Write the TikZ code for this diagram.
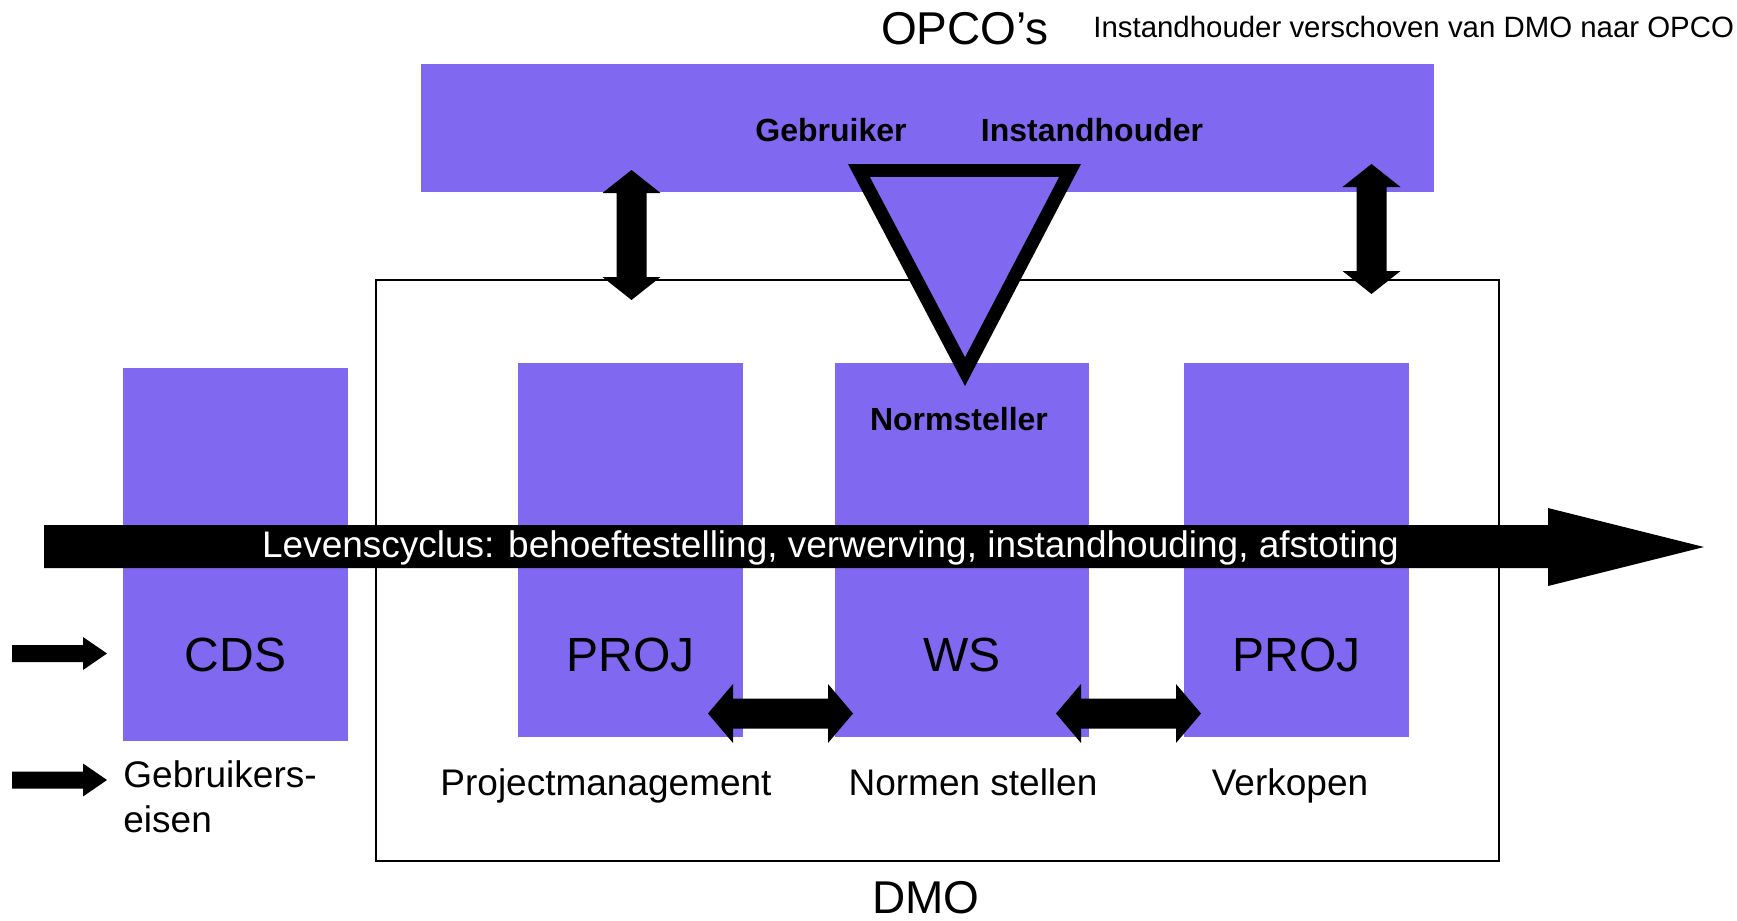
\documentclass[tikz,border=0pt]{standalone}
\usepackage{fontspec}
\setmainfont{Liberation Sans}
\definecolor{purp}{RGB}{129,104,240}
\tikzset{
  box/.style={fill=purp, draw=none},
  blk/.style={fill=black, draw=none},
  lbl/.style={inner sep=0pt, anchor=base},
  big/.style={font=\fontsize{24pt}{28pt}\selectfont},
  mid/.style={font=\fontsize{18.5pt}{22.5pt}\selectfont},
  bld/.style={font=\fontsize{16pt}{19pt}\selectfont\bfseries},
}
\begin{document}
\begin{tikzpicture}[x=0.5pt,y=-0.5pt]
\useasboundingbox (0,0) rectangle (1737,921);
% OPCO bar
\path[box] (421,64) rectangle (1434,192);
\coordinate (opco) at (927.5,128);
% DMO frame
\draw[line width=1.25pt] (376,280) rectangle (1499,861);
% boxes
\path[box] (123,368) rectangle (348,741);
\path[box] (518,363) rectangle (743,737);
\path[box] (835,363) rectangle (1089,737);
\path[box] (1184,363) rectangle (1409,737);
% titles
\node[lbl, font=\fontsize{23pt}{27pt}\selectfont] (opcot) at (965,45) {OPCO’s};
\node[lbl, anchor=base west, font=\fontsize{14.7pt}{17pt}\selectfont] (note) at (1093,38) {Instandhouder verschoven van DMO naar OPCO};
\node[lbl, font=\fontsize{23pt}{27pt}\selectfont] (dmot) at (926,913) {DMO};
\node[lbl, bld] (geb) at (831,141) {Gebruiker};
\node[lbl, bld] (inst) at (1092,141) {Instandhouder};
% triangle
\fill[black] (848,164) -- (1081,164) -- (965,386) -- cycle;
\fill[purp] (870,177) -- (1059,177) -- (965,357) -- cycle;
\node[lbl, bld] (norm) at (959,430) {Normsteller};
% box labels
\node[lbl, big] (cds) at (235.5,671) {CDS};
\node[lbl, big] (proj1) at (630.5,671) {PROJ};
\node[lbl, big] (ws) at (962,671) {WS};
\node[lbl, big] (proj2) at (1296.5,671) {PROJ};
% lower labels
\node[lbl, mid] (pm) at (606,795) {Projectmanagement};
\node[lbl, mid] (ns) at (973,795) {Normen stellen};
\node[lbl, mid] (vk) at (1290,795) {Verkopen};
\node[lbl, mid, anchor=base west] (ge1) at (123,787) {Gebruikers-};
\node[lbl, mid, anchor=base west] (ge2) at (123,832) {eisen};
% vertical double arrows
\path[blk] (631.5,170) -- (660.5,193) -- (646.5,193) -- (646.5,277) -- (660.5,277) -- (631.5,300)
  -- (602.5,277) -- (616.5,277) -- (616.5,193) -- (602.5,193) -- cycle;
\path[blk] (1371.5,164) -- (1400.5,187) -- (1386.5,187) -- (1386.5,271) -- (1400.5,271) -- (1371.5,294)
  -- (1342.5,271) -- (1356.5,271) -- (1356.5,187) -- (1342.5,187) -- cycle;
% horizontal double arrows
\path[blk] (708,713.5) -- (733,684) -- (733,698.5) -- (828,698.5) -- (828,684) -- (853,713.5)
  -- (828,743) -- (828,728.5) -- (733,728.5) -- (733,743) -- cycle;
\path[blk] (1056,713.5) -- (1081,684) -- (1081,698.5) -- (1176,698.5) -- (1176,684) -- (1201,713.5)
  -- (1176,743) -- (1176,728.5) -- (1081,728.5) -- (1081,743) -- cycle;
% small input arrows
\path[blk] (12,645) -- (83,645) -- (83,637) -- (107,653.5) -- (83,670) -- (83,662) -- (12,662) -- cycle;
\path[blk] (12,771.5) -- (83,771.5) -- (83,763.5) -- (107,780) -- (83,796.5) -- (83,788.5) -- (12,788.5) -- cycle;
% life cycle arrow
\path[blk] (44,525) -- (1548,525) -- (1548,508) -- (1704,547) -- (1548,586) -- (1548,568) -- (44,568) -- cycle;
\node[lbl, mid, text=white] (lc) at (830.5,557) {Levenscyclus: behoeftestelling, verwerving, instandhouding, afstoting};
\end{tikzpicture}
\end{document}
